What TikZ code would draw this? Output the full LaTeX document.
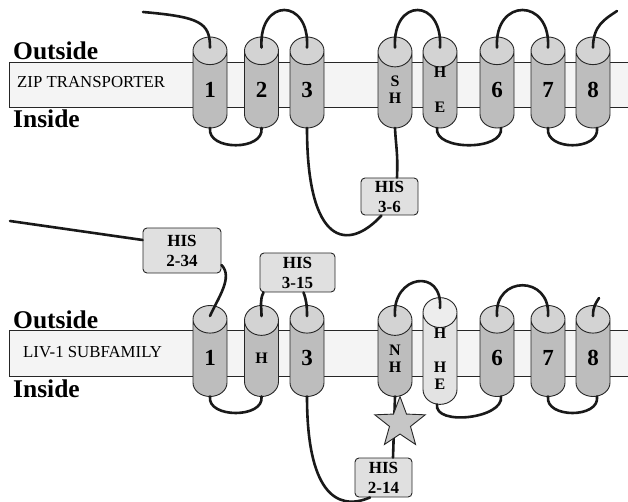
\documentclass[tikz,border=0pt]{standalone}
\usepackage{fontspec}
\setmainfont{Liberation Serif}
\usepackage{xcolor}
\usepackage{tikz}
\usetikzlibrary{shapes.geometric, positioning, calc}
\definecolor{bandgray}{HTML}{F4F4F4}
\definecolor{bodygray}{HTML}{BDBDBD}
\definecolor{capgray}{HTML}{D3D3D3}
\definecolor{palebody}{HTML}{E3E3E3}
\definecolor{palecap}{HTML}{EDEDED}
\definecolor{boxgray}{HTML}{E0E0E0}
\definecolor{stargray}{HTML}{C6C6C6}
\tikzstyle{helix} = [cylinder, shape border rotate=90, aspect=2.4, anchor=shape center, minimum width=34pt, minimum height=91pt, inner sep=0pt, outer sep=0pt, draw=black!85, line width=0.9pt, cylinder uses custom fill, cylinder body fill=bodygray, cylinder end fill=capgray, font=\fontsize{23}{23}\selectfont\bfseries, align=center]
\tikzstyle{palehelix} = [helix, cylinder body fill=palebody, cylinder end fill=palecap]
\tikzstyle{residues} = [font=\fontsize{16}{17}\selectfont\bfseries]
\tikzstyle{band} = [draw=black!85, line width=0.9pt, fill=bandgray]
\tikzstyle{tether} = [line width=2.6pt, black!90, line cap=round]
\tikzstyle{hisbox} = [rectangle, rounded corners=4pt, draw=black!85, line width=0.9pt, fill=boxgray, font=\fontsize{17}{20}\selectfont\bfseries, align=center, inner sep=0pt]
\tikzstyle{side} = [font=\fontsize{25.5}{25.5}\selectfont\bfseries, anchor=base west, inner sep=0pt]
\tikzstyle{family} = [font=\fontsize{16.8}{16.8}\selectfont, anchor=base west, inner sep=0pt]

\begin{document}
\begin{tikzpicture}[x=1pt, y=-1pt]
    \useasboundingbox (0,0) rectangle (628,502);

    % ZIP transporter
    \draw[band] (9,62) rectangle (640,107);
    \node (out1) [side] at (13,60) {Outside};
    \node (in1) [side] at (13,128) {Inside};
    \node (zip) [family] at (17,88) {ZIP TRANSPORTER};
    \node (z1) [helix] at (210,82.5) {1};
    \node (z2) [helix] at (261.5,82.5) {2};
    \node (z3) [helix] at (307,82.5) {3};
    \node (z4) [helix, residues] at (395,82.5) {S\\H};
    \node (z5) [helix, residues] at (440,82.5) {H\\[18pt]E};
    \node (z6) [helix] at (497,82.5) {6};
    \node (z7) [helix] at (548,82.5) {7};
    \node (z8) [helix] at (593,82.5) {8};
    \node (his36) [hisbox, minimum width=57pt, minimum height=37pt] at (389.5,196.5) {HIS\\3-6};
    \coordinate (nterm1) at (143,12);
    \coordinate (cterm1) at (617,11);

    \draw[tether] (nterm1) .. controls +(57,5) and +(0,-25) .. ([yshift=-10.5pt]z1.top);
    \draw[tether] ([yshift=-10.5pt]z2.top) .. controls +(-3,-50) and +(3,-50) .. ([yshift=-10.5pt]z3.top);
    \draw[tether] ([yshift=-10.5pt]z4.top) .. controls +(-3,-50) and +(3,-50) .. ([yshift=-10.5pt]z5.top);
    \draw[tether] ([yshift=-10.5pt]z6.top) .. controls +(-3,-50) and +(3,-50) .. ([yshift=-10.5pt]z7.top);
    \draw[tether] ([yshift=-10.5pt]z8.top) .. controls +(0,-22) and +(-12,8) .. (cterm1);
    \draw[tether] (z1.bottom) .. controls +(-3,23) and +(3,23) .. (z2.bottom);
    \draw[tether] ([xshift=-3pt]z5.bottom) .. controls +(-3,23) and +(3,23) .. ([xshift=4pt]z6.bottom);
    \draw[tether] (z7.bottom) .. controls +(-3,23) and +(3,23) .. ([xshift=4pt]z8.bottom);
    \draw[tether] (z3.bottom) .. controls +(0,117) and +(-34,37) .. ([xshift=-8pt]his36.south);
    \draw[tether] ([xshift=7.5pt]his36.north) .. controls +(1,-25) and +(1,20) .. (z4.bottom);

    % LIV-1 subfamily
    \draw[band] (9,330) rectangle (640,376);
    \node (out2) [side] at (13,328) {Outside};
    \node (in2) [side] at (13,397) {Inside};
    \node (liv) [family] at (23,357) {LIV-1 SUBFAMILY};
    \node (l1) [helix] at (210,351) {1};
    \node (l2) [helix, residues] at (261.5,351) {H};
    \node (l3) [helix] at (307,351) {3};
    \node (l4) [helix, residues] at (395,351) {N\\H};
    \node (l5) [palehelix, residues] at (440,351) {H\\[17pt]H\\E};
    \node (l6) [helix] at (497,351) {6};
    \node (l7) [helix] at (548,351) {7};
    \node (l8) [helix] at (593,351) {8};
    \node (his234) [hisbox, minimum width=78pt, minimum height=45pt] at (182,250.5) {HIS\\2-34};
    \node (his315) [hisbox, minimum width=75pt, minimum height=39pt] at (297.5,272.5) {HIS\\3-15};
    \node (his214) [hisbox, minimum width=57pt, minimum height=39pt] at (383.5,477.5) {HIS\\2-14};
    \coordinate (nterm2) at (10,221);
    \coordinate (cterm2) at (599,298);

    \draw[tether] (nterm2) -- ([yshift=10.5pt]his234.west);
    \draw[tether] ([yshift=-14.5pt]his234.east) .. controls +(12,12) and +(8,-18) .. ([yshift=-10.5pt]l1.top);
    \draw[tether] ([xshift=-34pt]his315.south) .. controls +(-4,8) and +(0,-10) .. ([yshift=-10.5pt]l2.top);
    \draw[tether] ([xshift=6pt]his315.south) .. controls +(3,8) and +(0,-10) .. ([yshift=-10.5pt]l3.top);
    \draw[tether] ([yshift=-10.5pt]l4.top) .. controls +(-3,-41) and +(3,-41) .. ([yshift=-10.5pt]l5.top);
    \draw[tether] ([yshift=-10.5pt]l6.top) .. controls +(-3,-41) and +(3,-41) .. ([yshift=-10.5pt]l7.top);
    \draw[tether] ([yshift=-10.5pt]l8.top) .. controls +(0,-10) and +(-3,5) .. (cterm2);
    \draw[tether] (l1.bottom) .. controls +(-3,22) and +(3,22) .. (l2.bottom);
    \draw[tether] ([xshift=-3pt]l5.bottom) .. controls +(-3,22) and +(3,22) .. ([xshift=4pt]l6.bottom);
    \draw[tether] (l7.bottom) .. controls +(-3,22) and +(3,22) .. ([xshift=4pt]l8.bottom);
    \draw[tether] (l3.bottom) .. controls +(0,93) and +(-35,15) .. ([xshift=-13.5pt]his214.south);
    \draw[tether] (l4.bottom) -- ([xshift=9.5pt]his214.north);
    \node (motif) [star, star points=5, star point ratio=2.4, minimum size=53pt, inner sep=0pt, draw=black!85, line width=0.9pt, fill=stargray] at (400,423) {};
\end{tikzpicture}
\end{document}
